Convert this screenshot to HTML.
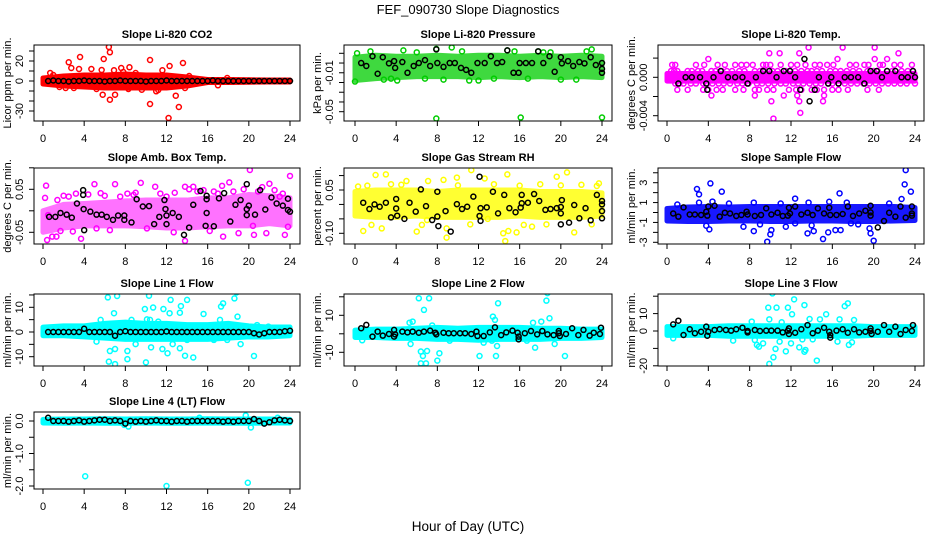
<!DOCTYPE html>
<html><head><meta charset="utf-8">
<style>
html,body{margin:0;padding:0;background:#fff;}
svg{display:block;font-family:"Liberation Sans",sans-serif;}
</style></head>
<body>
<svg id="chart" width="936" height="540" viewBox="0 0 936 540" xmlns="http://www.w3.org/2000/svg">
<text x="468" y="14" text-anchor="middle" font-size="13">FEF_090730  Slope Diagnostics</text>
<text x="468" y="531" text-anchor="middle" font-size="13.5">Hour of Day (UTC)</text>
</svg>
<script>
// ---------- shared data ----------
const xTicks = [0,4,8,12,16,20,24];
const bandHours = [0,2,4,6,8,10,12,14,16,18,20,22,24];
const regHours = [0.5,1,1.5,2,2.5,3,3.5,4,4.5,5,5.5,6,6.5,7,7.5,8,8.5,9,9.5,10,10.5,11,11.5,12,12.5,13,13.5,14,14.5,15,15.5,16,16.5,17,17.5,18,18.5,19,19.5,20,20.5,21,21.5,22,22.5,23,23.5,24];

// ---------- CO2 ----------
const co2BandLo = [-3,-5,-6,-7,-7,-7,-7,-5,-1.5,-1.5,-1.2,-1,-1];
const co2BandHi = [3,5,6,6,7,6,6,4,1.5,1.5,1.2,1,1];
const co2Hours = [2.5,3.6,2.75,3.5,4.7,5.9,5.7,6.4,6.5,6.9,7.6,8.4,10.4,11.6,12.3,13.6,5.8,6.5,7,10.4,12.9,13.2,12.2,9.6,11,8.3,2.2,0.7,1,17.9,17,14.2,1.6,3,4.4,9,11.2,13.8,7.8,5.2];
const co2Vals = [18.7,24,13,12,12,22,11,34,28.7,10.7,13,13.7,21,10.7,15,18,-13.7,-18.7,-13.7,-23,-14.7,-26,-37,-8.7,-10.3,-8,-7,8,6,3,-4.3,5,-6,-7,-5,8,-9,-7,9,-8];
const co2Black = [0,0.5,0,0,-0.5,0,0,0.5,0,0,0,-0.5,0,0,0.5,0,0,0,0,-0.5,0,0,0,0.5,0,0,0,0,0,0,0,0,0.5,0,0,0,0,0,0,0,0,0,0,0,0,0,0,0];
const co2Ticks = [30,20,10,0,-10,-20,-30];
const co2TickLabels = ["","20","","0","","","-30"];

// ---------- Pressure ----------
const prBandLo = [-0.018,-0.016,-0.015,-0.014,-0.014,-0.014,-0.015,-0.014,-0.015,-0.014,-0.015,-0.014,-0.015];
const prBandHi = [0.006,0.008,0.007,0.007,0.008,0.007,0.008,0.008,0.007,0.008,0.007,0.008,0.007];
const prHours = [0,0.2,7.9,9.4,14.8,17.8,23,7.9,16.1,24,4.1,12,20,11.1,16.8,6.8,4.7,1.5,2.8,6,8.6,10.4,13.5,15.5,19,21.5,22.5,3.5,18.3];
const prVals = [-0.019,0.01,0.0145,0.016,0.013,0.012,0.014,-0.057,-0.056,-0.056,-0.018,-0.018,-0.017,-0.018,-0.016,-0.016,0.013,0.012,-0.017,0.011,-0.017,0.012,-0.016,0.012,0.011,-0.017,0.012,-0.016,0.011];
const prBlackHours = [0.6,1.1,1.7,2.2,2.7,3.3,3.8,3.9,4.6,5.1,5.7,6.2,6.8,7.3,7.9,8,8.6,9.2,9.7,10.3,10.8,11.3,11.9,12.6,13.2,13.8,14.3,14.8,15.4,15.9,16,16.6,17.2,17.8,18.3,18.9,19.4,20,20.1,20.7,21.2,21.8,22.3,22.9,23.4,24,24,24];
const prBlack = [0,-0.003,0.007,-0.011,0.006,-0.0003,0.002,-0.005,0.001,-0.01,-0.003,0,0.003,-0.003,0.014,0,-0.004,0,0,-0.005,-0.007,-0.01,0,0,0.007,0,0.001,0.013,-0.01,-0.01,0,0,0,0.012,0,0.007,-0.009,0.006,-0.0003,0.002,-0.003,0.001,-0.0003,0.006,-0.002,-0.01,0,-0.006];
const prTicks = [0.01,0,-0.01,-0.02,-0.03,-0.04,-0.05];
const prTickLabels = ["","","-0.01","","","","-0.05"];

// ---------- Li-820 Temp ----------
const tpBandLo = [-0.0004,-0.0004,-0.0004,-0.0004,-0.0004,-0.0004,-0.0004,-0.0004,-0.0004,-0.0004,-0.0004,-0.0004,-0.0004];
const tpBandHi = [0.0004,0.0004,0.0004,0.0004,0.0004,0.0004,0.0004,0.0004,0.0004,0.0004,0.0004,0.0004,0.0004];
const tpRowLevels = [0.0013,0.00065,-0.00065,-0.0013];
const tpRowHours = [
 [0.5,0.8,2.8,3.6,4.9,5.6,6.6,7.2,7.7,8.3,9.3,9.6,10,11,12,12.6,13.4,14.3,14.8,15.5,16.1,17.7,18.3,19.1,19.5,20.6,20.9,22,22.6,23.7],
 [0.4,0.7,1,2,2.4,3,3.4,4.3,4.7,5.3,5.8,6.3,7,7.5,8.5,9,9.5,10.2,10.7,11.5,11.9,12.4,13,13.6,14,14.5,15,15.8,16.3,16.8,17.4,18,18.6,19.4,20,20.4,21.3,21.8,22.7,23.3,23.8],
 [0.8,1.2,1.6,2.3,2.8,3.5,3.9,4.4,5,5.5,6.1,6.8,7.3,7.9,8.7,9.2,9.8,10.4,11,11.5,12.2,12.7,13.2,13.8,14.4,14.9,15.6,16,16.6,17.2,17.8,18.4,19,19.6,20.2,20.8,21.4,22,22.6,23.2,24],
 [1,2,3.5,4,4.8,5.4,6.6,7.4,8.5,8.9,9.7,10.3,11.8,12.5,13,14,14.5,15.2,16,16.6,17.5,19.4,20.5]
];
const tpHours = [9.9,10.9,12.8,13.7,17,20.1,22.4,4,16.5,20.1,21.3,10.3,12.9,10.1,12.8,15.1,4.3,8.5,11.3,15.2,12.6];
const tpVals = [0.0025,0.0025,0.0025,0.0031,0.0031,0.0031,0.0025,0.0019,0.0019,0.0019,0.0019,-0.0043,-0.0037,-0.0025,-0.0025,-0.0025,-0.0019,-0.0019,-0.0019,-0.0019,-0.0019];
const tpBlackHours = [1.1,1.8,2.4,3.2,3.8,3.9,4.5,5.2,5.9,6.6,7.3,7.8,8.6,9.3,9.9,10.6,11.3,11.9,12.4,12.9,13.3,13.8,14.3,14.7,15.6,15.9,16.6,17.2,17.8,18.5,19.1,19.7,20.3,20.8,21.3,22.1,22.7,23.3,23.8,24];
const tpBlack = [-0.00065,0,0,0,-0.00065,-0.0013,0,0.00065,0,0,0,-0.00065,0,0.00065,0.00065,0,0.00065,0.00065,0,-0.0013,0.0019,-0.0025,-0.0013,0,-0.00065,0,-0.00065,0,0,0,-0.00065,0.00065,0.00065,0,0.00065,0.00065,0,0,0.00065,0];
const tpTicks = [0.002,0,-0.002,-0.004];
const tpTickLabels = ["","0.000","","-0.004"];

// ---------- Amb Box Temp ----------
const abBandLo = [-0.05,-0.04,-0.035,-0.035,-0.035,-0.037,-0.04,-0.04,-0.037,-0.035,-0.035,-0.03,-0.035];
const abBandHi = [0.0,0.015,0.017,0.02,0.023,0.025,0.025,0.025,0.03,0.03,0.038,0.035,0.03];
const abHours = [0.3,0.4,0.9,1.3,3.7,5,7,9.5,10.9,13.8,13.8,14.6,17.4,18.1,17.5,19,20.1,20.5,21.7,22,24,23.5,23.8,1.7,2.9,5.2,6.5,10.1,12.7,16.2,20.4,1.4,2.5,5.6,7.5,8.8,12,15.6,16.6,18.5,20.9,23,0.2,0.5,2,3.2,4.4,6,8.2,9,11.4,12.8,14.2,15,17,19.5,21.3,22.5,23.3];
const abVals = [0.0585,-0.068,-0.06,-0.06,-0.065,0.062,0.062,0.065,0.056,-0.07,0.056,0.056,0.058,0.066,-0.06,-0.052,0.095,-0.056,-0.052,0.063,0.081,-0.056,-0.037,-0.047,-0.048,-0.041,-0.045,-0.041,-0.05,-0.047,-0.035,0.025,0.033,0.041,0.033,0.037,0.033,0.048,0.045,0.045,0.045,0.033,0.03,-0.01,0.035,0.04,0.038,0.035,0.04,0.042,0.04,0.042,0.05,0.045,0.04,0.05,0.055,0.048,0.04];
const abBlackHours = [0.6,1.2,1.7,2.3,2.8,3.3,3.9,3.9,3.95,4,4.6,5.2,5.7,6.2,6.8,7.3,7.9,7.9,8.6,9.1,9.7,10.3,10.8,11.3,11.8,11.9,12,12,12.6,13.2,13.7,14.2,14.6,15.3,15.9,15.9,15.9,15.8,16.6,17.1,17.6,18.2,18.7,19.2,19.8,19.8,19.8,20,20.6,21.1,21.6,22.2,22.7,23.3,23.8,23.8,24];
const abBlack = [-0.014,-0.014,-0.005,-0.009,-0.016,0.017,0.048,0.037,0.004,-0.045,-0.002,-0.009,-0.009,-0.014,-0.021,-0.011,-0.011,-0.021,-0.027,0.027,0.01,0.011,-0.031,-0.014,0.025,0.004,-0.011,-0.031,-0.005,-0.014,-0.056,-0.039,0.014,0.046,0.035,0.027,-0.005,-0.035,-0.036,0.029,0.041,-0.025,0.014,0.025,0.062,0.004,-0.01,0.012,-0.009,0.048,0.003,0.031,0.017,0.012,0.028,0.002,-0.002];
const abTicks = [0.1,0.05,0,-0.05];
const abTickLabels = ["","0.05","","-0.05"];

// ---------- Gas Stream RH ----------
const ghBandLo = [-0.04,-0.045,-0.045,-0.04,-0.045,-0.045,-0.045,-0.045,-0.04,-0.045,-0.045,-0.045,-0.04];
const ghBandHi = [0.045,0.05,0.05,0.05,0.045,0.05,0.05,0.05,0.05,0.045,0.045,0.045,0.04];
const ghHours = [2,3,5,7.1,8.6,9.9,11.3,12.6,14.8,19.6,20.6,23.7,0.8,1.6,2.6,6,6.5,8.9,8.9,14.4,14.6,14.9,15.7,16.4,17.2,18.6,21.3,23,11.2,12.9,7,0.3,1.2,3.5,4.5,10,13.5,16,18,20,22,23.5];
const ghVals = [0.102,0.104,0.081,0.081,0.085,0.093,0.119,0.09,0.104,0.096,0.111,0.073,-0.092,-0.071,-0.083,-0.094,-0.071,-0.115,-0.083,-0.1,-0.127,-0.092,-0.097,-0.071,-0.077,-0.069,-0.097,-0.069,-0.069,-0.05,-0.054,0.062,0.065,0.07,0.068,0.066,0.07,0.065,0.07,0.066,0.068,0.064];
const ghBlackHours = [0.8,1.4,1.9,2.4,3,3.5,4,4,4.1,4.8,5.3,5.9,6.4,6.9,7.5,8,8,8.1,8.8,9.3,9.9,10.4,10.9,11.5,12.1,12.1,12.2,12.2,12.8,13.4,13.9,14.5,15,15.6,16.1,16.2,16.2,16.8,17.4,17.9,18.5,19,19.6,20,20.1,20,20,20.8,21.3,21.8,22.4,22.9,23.5,24,24,24,24];
const ghBlack = [0.006,-0.016,0,-0.008,0.006,-0.045,-0.014,0.019,-0.039,-0.05,0.006,-0.025,0.052,-0.006,-0.054,0.044,-0.042,-0.075,-0.023,-0.094,0.001,-0.016,-0.008,0.027,0.096,-0.04,-0.057,-0.013,-0.01,0.044,-0.031,0.033,-0.013,-0.027,-0.011,0.004,0.033,0.006,0.036,0.012,-0.019,-0.016,-0.013,-0.009,0.015,-0.031,-0.069,-0.063,-0.002,-0.048,-0.013,-0.055,0.033,0.012,0,-0.048,-0.023];
const ghTicks = [0.1,0.05,0,-0.05,-0.1];
const ghTickLabels = ["","0.05","","","-0.10"];

// ---------- Sample Flow ----------
const sfBandLo = [-0.85,-0.9,-0.9,-0.85,-0.85,-0.9,-0.9,-0.85,-0.85,-0.9,-0.9,-0.85,-0.8];
const sfBandHi = [0.4,0.55,0.6,0.55,0.6,0.6,0.6,0.6,0.6,0.6,0.6,0.6,0.5];
const sfHours = [2.9,3.1,4.2,3.1,5.3,8.4,12.4,13.7,15.7,16.7,17.4,22.7,23,23.1,23.6,4.1,8.4,10.1,9.7,10,15.1,15.6,16.3,16.8,19.6,19.7,20,13.6,14.2,11.5,12.4,7.4,3.8,17.8,1,4.4,6,9,11,14,18.5,21.5];
const sfVals = [2.36,1.83,2.93,0.99,2.1,1,1.4,1,1.08,1.93,1,1.36,2.83,4.27,2.1,-1.7,-1.87,-1.77,-2.94,-2.2,-2.67,-2,-1.77,-1.77,-1.6,-2.1,-2.84,-2.1,-1.87,-1.43,-1.09,-1.43,-1.33,-1.09,0.8,1.1,0.9,-1.2,0.9,-1.3,-1.2,0.9];
const sfBlackHours = [0.6,1.1,1.6,2.2,2.7,3.3,3.8,3.9,4,4.6,5.1,5.6,6.1,6.7,7.2,7.7,7.8,8.5,9.1,9.6,10.1,10.7,11.2,11.7,11.8,11.9,12.4,13,13.6,14.1,14.6,15.2,15.7,15.8,16.4,17,17.5,18,18.6,19.2,19.7,19.7,19.7,20.4,21,21.5,22.1,22.6,23.1,23.7,23.7,23.7];
const sfBlack = [-0.1,-0.42,0.52,-0.2,-0.2,-0.25,0.08,-0.32,0.6,0.68,-0.42,-0.02,-0.1,-0.35,-0.25,0.08,-0.2,-0.35,-0.25,0.42,-0.2,-0.02,-0.35,-0.32,0.48,-0.1,0.6,-0.2,-0.02,-0.25,0.42,-0.1,0.48,-0.25,-0.25,-0.15,0.6,-0.35,-0.1,0.18,0.68,0.01,-0.32,-1.5,-0.86,-0.02,-0.42,0.6,-0.52,0.6,-0.1,-0.32];
const sfTicks = [4,3,2,1,0,-1,-2,-3];
const sfTickLabels = ["","3","","1","","-1","","-3"];

// ---------- Line 1 Flow ----------
const l1BandLo = [-1.5,-1.5,-2,-2.5,-3,-3,-3,-3,-3,-2.5,-2,-2,-1.5];
const l1BandHi = [2,2.5,2.5,3.5,4,3.5,3.5,3,3,3.5,2.5,2,2];
const l1Hours = [6.3,7.2,10.3,6.9,9.9,10.7,10.1,11.7,12.4,12.3,13.4,13.3,14,15.6,17.3,17.5,18.6,18.9,18.8,11.2,5.2,6.5,7,6.4,7,8.2,8.2,9,10,10.5,11.6,12.1,12.6,13.3,13.8,14.6,14,15.3,16.6,17.9,19.2,20.5,20.8,21.9,5.6,10.4,8.6,17.2];
const l1Vals = [14,14.6,14.7,7.6,9.3,9.9,5.1,9.3,13,7.6,10.5,7.8,13,7.3,10.3,11.6,13.6,6.2,16,4.2,-3.9,-7.7,-6.9,-12,-13,-11,-7.7,-4.9,-12.3,-6.2,-6.9,-8.6,-4.9,-6.6,-9.6,-10.3,-3.2,-1.9,-3.2,-3.2,-4.9,-9.7,2.8,2.2,4.9,4.9,4.9,4.9];
const l1Black = [0,0,0,0,0,0,0,1.3,0,0,0,0,0,-1.5,0,0.3,0,0,0,0,0,0,0,0.2,0,0,0,0,0,0,0,0,0,0,0,0,0,0,0,0,-0.5,-1,-0.5,0,0,0,0.3,0.5];
const l1Ticks = [15,10,5,0,-5,-10];
const l1TickLabels = ["","10","","0","","-10"];

// ---------- Line 2 Flow ----------
const l2BandLo = [-2,-2,-2.5,-2.5,-3,-3,-3.5,-3,-3,-3,-2.5,-2.5,-2];
const l2BandHi = [2,2.5,2.5,3,3.5,3,3.5,3.5,3.5,3,3,2.5,2.5];
const l2Hours = [6.2,7.2,6.7,13.9,18.7,18.6,18.9,13.4,13.6,5.3,5.6,17.3,18.1,5.4,6.4,7,6.6,6.4,6.9,8.2,8,12.1,13.7,13.8,12.5,13.3,17.5,19.4,20.4,9.2,16.7,0.7,7.5];
const l2Vals = [19.2,19.2,12.9,16.5,22,17.9,8.4,9.3,7.5,6,6.6,6,6.6,-5.5,-9.6,-9.3,-12,-16,-16,-10.5,-14.5,-12,-12,-6.6,-4.8,-3.7,-7.5,-5.5,-12,-3.7,-3.7,-3.5,4.5];
const l2BlackHours = [0.6,1.1,1.7,2.2,2.7,3.3,3.8,3.8,3.9,4.6,5.1,5.6,6.2,6.7,7.3,7.8,7.9,8.6,9.1,9.6,10.2,10.7,11.3,11.8,11.9,12.5,13.1,13.6,14.2,14.7,15.3,15.8,15.9,15.9,16.5,17.1,17.7,18.2,18.7,19.3,19.8,19.9,19.8,20.5,21.1,21.7,22.2,22.8,23.2,23.8,23.9];
const l2Black = [3,4.8,-1.5,1.2,-1,-0.1,2.1,-1.5,-0.3,1.2,0.8,1.2,0.6,1.2,1.7,0.6,-0.3,0.6,0.3,0.3,0.3,0.3,-0.1,1.2,-1.2,-1.2,0.8,3.5,-0.7,0.8,1.7,0.6,-1.5,-3,0.3,1.5,-0.3,1.5,-0.3,-0.7,0.3,-1.2,1.5,-0.1,3,-0.7,2.1,-1,0.6,-0.1,3.3];
const l2Ticks = [20,10,0,-10];
const l2TickLabels = ["","10","","-10"];

// ---------- Line 3 Flow ----------
const l3BandLo = [-2.5,-2.5,-2.5,-3,-3,-3,-3,-3,-3,-3,-2.5,-2.5,-2.5];
const l3BandHi = [2.5,2.5,2.5,3,3,3,3,3,3,3,2.5,2.5,2.5];
const l3Hours = [10.2,12.3,9.8,10.6,11.7,13.3,17.2,17.5,12.1,15.4,14.8,11.1,13.8,18.1,9.9,8.2,16.7,6.4,8.5,8.7,8.9,9.3,9.9,10.3,10.5,10.9,11.5,12,12.8,13.3,13.4,13.1,14.1,14.5,16.5,17.6,17.9,0.6];
const l3Vals = [21.6,18.2,13.4,13.4,13.4,14.9,14.3,15.9,9.6,9.6,6.7,5,6.9,6.3,6.7,5.4,6.7,-5.5,-5.2,-8,-9,-7.1,-18.9,-15.1,-10.3,-6.1,-11.7,-7.1,-9.4,-11.9,-10.9,-4.8,-4.8,-17,-6.1,-8,-6.5,-4.2];
const l3BlackHours = [0.6,1.1,1.6,2.2,2.7,3.3,3.8,3.9,4,4.6,5.1,5.7,6.2,6.7,7.3,7.8,7.8,8.5,9,9.6,10.1,10.7,11.2,11.7,11.8,11.8,12.4,13,13.6,14.1,14.6,15.2,15.7,15.8,15.8,16.4,17,17.5,18.1,18.6,19.2,19.7,19.8,19.7,20.4,21,21.5,22.1,22.6,23.1,23.7,23.8];
const l3Black = [3.8,5.9,-2.3,1,-1.3,-0.4,2.5,-2.7,-0.4,0.6,1,0.6,0.2,1,1.9,0,-0.8,0.6,0,0.2,0.2,0.2,-0.8,0.2,1.5,-1.7,-1,1,3.4,-1.3,0.2,1.9,-0.4,-2.3,-3.8,0.2,1,-1,1,-0.8,-0.4,0,-1.7,1.5,-0.4,3.4,-0.4,2.5,-1.7,0.6,0,3.4];
const l3Ticks = [20,10,0,-10,-20];
const l3TickLabels = ["","10","0","","-20"];

// ---------- Line 4 Flow ----------
const l4BandLo = [-0.06,-0.07,-0.06,-0.07,-0.07,-0.06,-0.07,-0.07,-0.06,-0.07,-0.07,-0.06,-0.06];
const l4BandHi = [0.05,0.06,0.06,0.07,0.06,0.07,0.06,0.06,0.07,0.06,0.06,0.06,0.05];
const l4Hours = [4.1,12,19.9,20.2,19.7,8.3,7.9,15.2,22.8];
const l4Vals = [-1.7,-2,-1.9,-0.2,0.17,-0.17,-0.12,0.1,0.1];
const l4Black = [0.1,0,0,0,-0.02,0,0.02,-0.02,0,0.02,0.04,0.04,0,0.02,0,-0.08,0,-0.02,0,-0.02,0,0.02,0,0,-0.02,0,0,-0.02,0,0,0,0,0,0,-0.02,0,-0.02,0,0,0,0.06,0,-0.08,-0.04,0.02,0.04,0.02,0];
const l4Ticks = [0,-0.5,-1,-1.5,-2];
const l4TickLabels = ["0.0","","-1.0","","-2.0"];

// ---------- rendering ----------
const svg = document.getElementById('chart');
const NS = 'http://www.w3.org/2000/svg';
function mk(tag, attrs, parent){
  const e = document.createElementNS(NS, tag);
  for (const k in attrs) e.setAttribute(k, attrs[k]);
  (parent||svg).appendChild(e);
  return e;
}
const cols = [{l:34,r:300,x0:43,x24:290},{l:344,r:612,x0:355,x24:602},{l:658,r:924,x0:667,x24:915}];
const rows = [{t:45,b:121},{t:168,b:244},{t:294,b:366},{t:412,b:489}];
let clipId = 0;

function drawPanel(p){
  const c = cols[p.col], rw = rows[p.row];
  const xs = h => c.x0 + (c.x24 - c.x0) * h / 24;
  const ys = v => p.py1 + (p.py2 - p.py1) * (v - p.v1) / (p.v2 - p.v1);
  const g = mk('g', {});
  
  
  const cid = 'clip' + (clipId++);
  const cp = mk('clipPath', {id: cid}, g);
  mk('rect', {x: c.l, y: rw.t, width: c.r - c.l, height: rw.b - rw.t}, cp);
  const plot = mk('g', {'clip-path': 'url(#' + cid + ')'}, g);
  
  
  let pts = [];
  for (let i = 0; i < bandHours.length; i++) pts.push(xs(bandHours[i]) + ',' + ys(p.hi[i]));
  for (let i = bandHours.length - 1; i >= 0; i--) pts.push(xs(bandHours[i]) + ',' + ys(p.lo[i]));
  const band = mk('polygon', {points: pts.join(' '), fill: p.color, stroke: p.color, 'stroke-width': 5, 'stroke-linejoin': 'round', opacity: p.bandOp || 1}, plot);
  
  
  for (let i = 0; i < p.hours.length; i++) {
    const ci = mk('circle', {cx: xs(p.hours[i]), cy: ys(p.vals[i]), r: 2.5, fill: 'none', stroke: p.color, 'stroke-width': 1.5}, plot);
    
    
  }
  for (let i = 0; i < p.bh.length; i++) {
    const ci = mk('circle', {cx: xs(p.bh[i]), cy: ys(p.bv[i]), r: 2.5, fill: 'none', stroke: '#000', 'stroke-width': 1.5}, plot);
    
    
  }
  const box = mk('rect', {x: c.l, y: rw.t, width: c.r - c.l, height: rw.b - rw.t, fill: 'none', stroke: '#000', 'stroke-width': 1}, g);
  
  
  for (const t of xTicks) {
    const x = xs(t);
    const tk = mk('line', {x1: x, x2: x, y1: rw.b, y2: rw.b + 5, stroke: '#000'}, g);
    
    
    const tl = mk('text', {x: x, y: rw.b + 21, 'text-anchor': 'middle', 'font-size': 11}, g);
    
    
    tl.textContent = t;
  }
  for (let i = 0; i < p.ticks.length; i++) {
    const y = ys(p.ticks[i]);
    const tk = mk('line', {x1: c.l - 5, x2: c.l, y1: y, y2: y, stroke: '#000'}, g);
    
    
    if (p.labels[i]) {
      const tl = mk('text', {x: 0, y: 0, 'text-anchor': 'middle', 'font-size': 11, transform: 'translate(' + (c.l - 11) + ',' + y + ') rotate(-90)'}, g);
      
      
      tl.textContent = p.labels[i];
    }
  }
  const yl = mk('text', {x: 0, y: 0, 'text-anchor': 'middle', 'font-size': 11, transform: 'translate(' + (c.l - 23) + ',' + ((rw.t + rw.b) / 2) + ') rotate(-90)'}, g);
  
  
  yl.textContent = p.ylab;
  const tt = mk('text', {x: (c.l + c.r) / 2, y: rw.t - 7, 'text-anchor': 'middle', 'font-size': 11, 'font-weight': 'bold'}, g);
  
  
  tt.textContent = p.title;
}

function flatRows(levels, hoursRows, extraH, extraV){
  const H = [], V = [];
  for (let r = 0; r < levels.length; r++) for (const h of hoursRows[r]) { H.push(h); V.push(levels[r]); }
  for (let i = 0; i < extraH.length; i++) { H.push(extraH[i]); V.push(extraV[i]); }
  return [H, V];
}
const tpAll = flatRows(tpRowLevels, tpRowHours, tpHours, tpVals);

const panels = [
 {name:'co2', title:'Slope Li-820 CO2', ylab:'Licor ppm per min.', col:0,row:0, color:'#ff0000', v1:0,py1:81,v2:20,py2:61, lo:co2BandLo,hi:co2BandHi, hours:co2Hours,vals:co2Vals, bh:regHours,bv:co2Black, ticks:co2Ticks,labels:co2TickLabels},
 {name:'pressure', title:'Slope Li-820 Pressure', ylab:'kPa per min.', col:1,row:0, color:'#00cd00', v1:0.01,py1:53.3,v2:-0.05,py2:111.7, lo:prBandLo,hi:prBandHi, hours:prHours,vals:prVals, bh:prBlackHours,bv:prBlack, ticks:prTicks,labels:prTickLabels, bandOp:0.75},
 {name:'li820-temp', title:'Slope Li-820 Temp.', ylab:'degrees C per min.', col:2,row:0, color:'#ff00ff', v1:0,py1:77.3,v2:-0.004,py2:115.7, lo:tpBandLo,hi:tpBandHi, hours:tpAll[0],vals:tpAll[1], bh:tpBlackHours,bv:tpBlack, ticks:tpTicks,labels:tpTickLabels},
 {name:'amb-box-temp', title:'Slope Amb. Box Temp.', ylab:'degrees C per min.', col:0,row:1, color:'#ff00ff', v1:0.05,py1:189.3,v2:-0.05,py2:232.3, lo:abBandLo,hi:abBandHi, hours:abHours,vals:abVals, bh:abBlackHours,bv:abBlack, ticks:abTicks,labels:abTickLabels, bandOp:0.55},
 {name:'gas-stream-rh', title:'Slope Gas Stream RH', ylab:'percent per min.', col:1,row:1, color:'#ffff00', v1:0.05,py1:190,v2:-0.10,py2:233.3, lo:ghBandLo,hi:ghBandHi, hours:ghHours,vals:ghVals, bh:ghBlackHours,bv:ghBlack, ticks:ghTicks,labels:ghTickLabels, bandOp:0.8},
 {name:'sample-flow', title:'Slope Sample Flow', ylab:'ml/min per min.', col:2,row:1, color:'#0000ff', v1:3,py1:182.7,v2:-3,py2:242.3, lo:sfBandLo,hi:sfBandHi, hours:sfHours,vals:sfVals, bh:sfBlackHours,bv:sfBlack, ticks:sfTicks,labels:sfTickLabels, bandOp:0.9},
 {name:'line1-flow', title:'Slope Line 1 Flow', ylab:'ml/min per min.', col:0,row:2, color:'#00ffff', v1:10,py1:307.3,v2:-10,py2:356.7, lo:l1BandLo,hi:l1BandHi, hours:l1Hours,vals:l1Vals, bh:regHours,bv:l1Black, ticks:l1Ticks,labels:l1TickLabels},
 {name:'line2-flow', title:'Slope Line 2 Flow', ylab:'ml/min per min.', col:1,row:2, color:'#00ffff', v1:10,py1:315.3,v2:-10,py2:352.3, lo:l2BandLo,hi:l2BandHi, hours:l2Hours,vals:l2Vals, bh:l2BlackHours,bv:l2Black, ticks:l2Ticks,labels:l2TickLabels},
 {name:'line3-flow', title:'Slope Line 3 Flow', ylab:'ml/min per min.', col:2,row:2, color:'#00ffff', v1:0,py1:331,v2:10,py2:313.6, lo:l3BandLo,hi:l3BandHi, hours:l3Hours,vals:l3Vals, bh:l3BlackHours,bv:l3Black, ticks:l3Ticks,labels:l3TickLabels},
 {name:'line4-flow', title:'Slope Line 4 (LT) Flow', ylab:'ml/min per min.', col:0,row:3, color:'#00ffff', v1:0,py1:421,v2:-2,py2:486, lo:l4BandLo,hi:l4BandHi, hours:l4Hours,vals:l4Vals, bh:regHours,bv:l4Black, ticks:l4Ticks,labels:l4TickLabels}
];
panels.forEach(drawPanel);
</script>
</body></html>
